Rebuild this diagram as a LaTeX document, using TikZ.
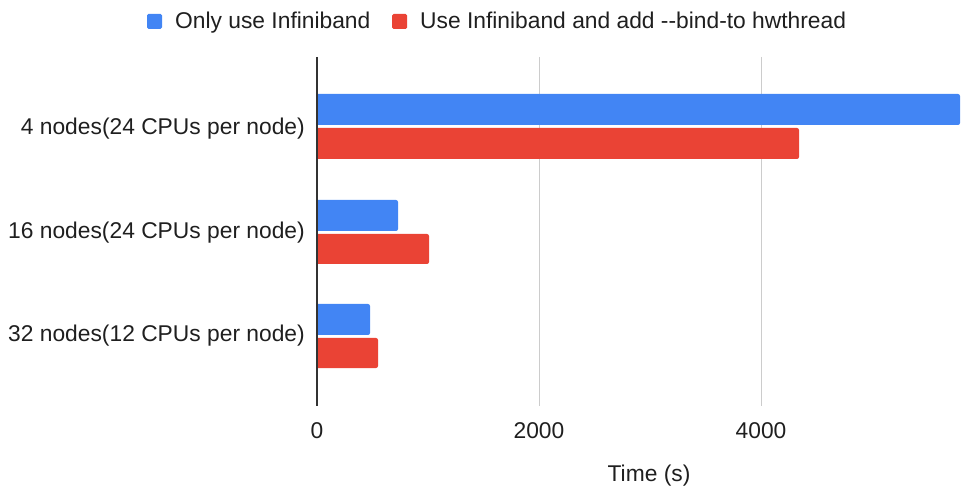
\documentclass[tikz,border=0pt]{standalone}
\usepackage{fontspec}
\setmainfont{Liberation Sans}
\definecolor{Bbar}{HTML}{4285F4}
\definecolor{Rbar}{HTML}{EA4335}
\definecolor{Grid}{HTML}{CCCCCC}
\definecolor{Axis}{HTML}{333333}

\begin{document}
\begin{tikzpicture}[x=1pt,y=-1pt,line cap=butt,
  lbl/.style={font=\fontsize{22.8}{24}\selectfont,inner sep=0pt,text=black!88},
  grid/.style={draw=Grid,line width=1pt},
  key/.style={rounded corners=1.5pt}]
\path[use as bounding box] (0,0) rectangle (972,486);
% legend
\fill[Bbar,key] (147,14) rectangle (162,29);
\node[lbl,anchor=base west] (keyB) at (175,28.3) {Only use Infiniband};
\fill[Rbar,key] (392,14) rectangle (407,29);
\node[lbl,anchor=base west] (keyR) at (420,28.3) {Use Infiniband and add {-}{-}bind-to hwthread};
% grid and axis
\draw[grid] (539,57) -- (539,406);
\draw[grid] (761,57) -- (761,406);
% bars
\fill[Bbar] (317,94) {[rounded corners=2pt] -- (960,94) -- (960,125)} -- (317,125) -- cycle;
\fill[Rbar] (317,128) {[rounded corners=2pt] -- (799,128) -- (799,159)} -- (317,159) -- cycle;
\fill[Bbar] (317,200) {[rounded corners=2pt] -- (398,200) -- (398,231)} -- (317,231) -- cycle;
\fill[Rbar] (317,234) {[rounded corners=2pt] -- (429,234) -- (429,264)} -- (317,264) -- cycle;
\fill[Bbar] (317,304) {[rounded corners=2pt] -- (370,304) -- (370,335)} -- (317,335) -- cycle;
\fill[Rbar] (317,338) {[rounded corners=2pt] -- (378,338) -- (378,368)} -- (317,368) -- cycle;
\draw[Axis,line width=1.2pt] (317,57) -- (317,406);
% category labels
\node[lbl,anchor=base east] (n4) at (305,134.3) {4 nodes(24 CPUs per node)};
\node[lbl,anchor=base east] (n16) at (305,238.3) {16 nodes(24 CPUs per node)};
\node[lbl,anchor=base east] (n32) at (305,341.7) {32 nodes(12 CPUs per node)};
% value axis
\node[lbl,anchor=base] (t0) at (317,438) {0};
\node[lbl,anchor=base] (t2000) at (539,438) {2000};
\node[lbl,anchor=base] (t4000) at (761,438) {4000};
\node[lbl,anchor=base] (xtitle) at (649,481) {Time (s)};
\end{tikzpicture}
\end{document}
